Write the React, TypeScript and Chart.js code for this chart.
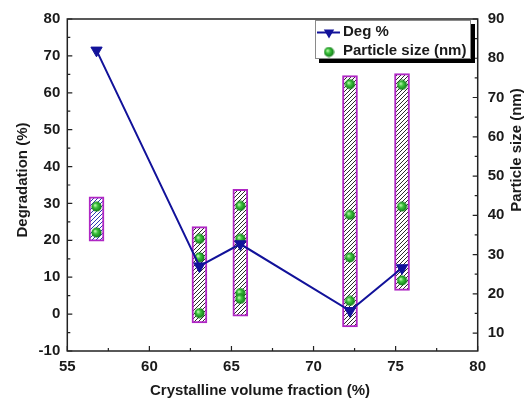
import React, { useEffect, useRef } from 'react';
import { Chart, registerables } from 'chart.js';

Chart.register(...registerables);

// ---- data ----
const sampleX = [56.78, 63.05, 65.54, 72.22, 75.39];
const degradation = [71.5, 13.0, 19.0, 0.9, 12.5];
const boxLow = [33.4, 12.6, 14.3, 11.6, 20.9];
const boxHigh = [44.7, 37.1, 46.6, 75.6, 76.1];
const particleSizes = [
  [42.2, 35.6],
  [34.0, 29.3, 15.1],
  [42.4, 34.0, 20.2, 18.7],
  [73.4, 40.1, 29.3, 18.2],
  [73.2, 42.2, 23.4],
];
const xTicks = [55, 60, 65, 70, 75, 80];
const leftTicks = [-10, 0, 10, 20, 30, 40, 50, 60, 70, 80];
const rightTicks = [10, 20, 30, 40, 50, 60, 70, 80, 90];

const FONT = '"Liberation Sans", Arial, sans-serif';
const TEXT = '#1a1a1a';
const AXIS = '#222222';
const NAVY = '#12129a';
const MAGENTA = '#b026c4';

function makeHatch(color: string): CanvasPattern | string {
  const c = document.createElement('canvas');
  c.width = 4;
  c.height = 4;
  const g = c.getContext('2d');
  if (!g) return '#ddd';
  g.fillStyle = '#ffffff';
  g.fillRect(0, 0, 4, 4);
  g.strokeStyle = color;
  g.lineWidth = 1;
  g.beginPath();
  g.moveTo(0, 4); g.lineTo(4, 0);
  g.moveTo(-1, 1); g.lineTo(1, -1);
  g.moveTo(3, 5); g.lineTo(5, 3);
  g.stroke();
  const p = g.createPattern(c, 'repeat');
  return p || '#ddd';
}

function makeBall(): HTMLCanvasElement {
  const c = document.createElement('canvas');
  c.width = 11;
  c.height = 11;
  const g = c.getContext('2d');
  if (g) {
    const grad = g.createRadialGradient(4, 4, 0.5, 5.5, 5.5, 5.5);
    grad.addColorStop(0, '#b8f5a8');
    grad.addColorStop(0.35, '#3cc23c');
    grad.addColorStop(1, '#0a6e12');
    g.fillStyle = grad;
    g.beginPath();
    g.arc(5.5, 5.5, 5, 0, Math.PI * 2);
    g.fill();
  }
  return c;
}

function drawDownTriangle(ctx: CanvasRenderingContext2D, x: number, y: number, r: number) {
  ctx.beginPath();
  for (let k = 0; k < 3; k++) {
    const a = Math.PI + k * (2 * Math.PI / 3);
    const px = x + Math.sin(a) * r;
    const py = y - Math.cos(a) * r;
    if (k === 0) ctx.moveTo(px, py); else ctx.lineTo(px, py);
  }
  ctx.closePath();
  ctx.fill();
}

const decorPlugin = {
  id: 'decor',
  afterDraw(chart: any) {
    const ctx: CanvasRenderingContext2D = chart.ctx;
    const { left, right, top, bottom } = chart.chartArea;
    const xs = chart.scales.x;
    const yl = chart.scales.y;
    const yr = chart.scales.y2;
    ctx.save();
    // frame
    ctx.strokeStyle = AXIS;
    ctx.lineWidth = 1.5;
    ctx.strokeRect(left, top, right - left, bottom - top);
    // ticks (inward)
    ctx.lineWidth = 1.2;
    ctx.beginPath();
    for (let v = 55; v <= 80.001; v += 2.5) {
      const px = xs.getPixelForValue(v);
      const len = Math.abs(v % 5) < 0.01 ? 5 : 3;
      ctx.moveTo(px, bottom);
      ctx.lineTo(px, bottom - len);
    }
    for (let v = -10; v <= 80.001; v += 5) {
      const py = yl.getPixelForValue(v);
      const len = Math.abs(v % 10) < 0.01 ? 5 : 3;
      ctx.moveTo(left, py);
      ctx.lineTo(left + len, py);
    }
    for (let v = 10; v <= 90.001; v += 5) {
      const py = yr.getPixelForValue(v);
      const len = Math.abs(v % 10) < 0.01 ? 5 : 3;
      ctx.moveTo(right, py);
      ctx.lineTo(right - len, py);
    }
    ctx.stroke();

    // axis titles
    ctx.fillStyle = TEXT;
    ctx.font = `bold 15px ${FONT}`;
    ctx.textAlign = 'center';
    ctx.textBaseline = 'middle';
    ctx.fillText('Crystalline volume fraction (%)', 260, 391);
    ctx.save();
    ctx.translate(23, 180);
    ctx.rotate(-Math.PI / 2);
    ctx.fillText('Degradation (%)', 0, 0);
    ctx.restore();
    ctx.save();
    ctx.translate(517, 150);
    ctx.rotate(-Math.PI / 2);
    ctx.fillText('Particle size (nm)', 0, 0);
    ctx.restore();

    // legend
    const lx = 315, ly = 20, lw = 156, lh = 39;
    ctx.fillStyle = '#000';
    ctx.fillRect(lx + 4, ly + 4, lw, lh);
    ctx.fillStyle = '#fff';
    ctx.fillRect(lx, ly, lw, lh);
    ctx.strokeStyle = '#8a8a8a';
    ctx.lineWidth = 1;
    ctx.strokeRect(lx + 0.5, ly + 0.5, lw - 1, lh - 1);
    const ds = chart.data.datasets;
    // entry 1: line + triangle
    ctx.strokeStyle = NAVY;
    ctx.lineWidth = 2;
    ctx.beginPath();
    ctx.moveTo(317, 32.5);
    ctx.lineTo(340, 32.5);
    ctx.stroke();
    ctx.fillStyle = NAVY;
    drawDownTriangle(ctx, 329, 32.5, 6);
    ctx.fillStyle = TEXT;
    ctx.textAlign = 'left';
    ctx.fillText(ds[2].label, 343, 32);
    // entry 2: ball
    ctx.drawImage(ball, 329 - 5.5, 52 - 5.5);
    ctx.fillStyle = TEXT;
    ctx.fillText(ds[1].label, 343, 51);
    ctx.restore();
  },
};

let ball: HTMLCanvasElement;

export default function App() {
  const ref = useRef<HTMLCanvasElement | null>(null);
  useEffect(() => {
    if (!ref.current) return;
    ball = makeBall();
    const hatchBlue = makeHatch('#2b3ab0');
    const hatchGray = makeHatch('#2a2a2a');
    const tickFont = { family: FONT, size: 15, weight: 'bold' as const };

    const barData = sampleX.map((x, i) => ({ x, y: [boxLow[i], boxHigh[i]] }));
    const ptData: { x: number; y: number }[] = [];
    particleSizes.forEach((arr, i) => arr.forEach((v) => ptData.push({ x: sampleX[i], y: v })));
    const degData = sampleX.map((x, i) => ({ x, y: degradation[i] }));

    const chart = new Chart(ref.current, {
      type: 'line',
      data: {
        datasets: [
          {
            type: 'bar',
            label: 'range',
            data: barData as any,
            xAxisID: 'x',
            yAxisID: 'y2',
            barThickness: 15,
            backgroundColor: sampleX.map((_, i) => (i === 0 ? hatchBlue : hatchGray)) as any,
            borderColor: MAGENTA,
            borderWidth: 2,
            borderSkipped: false,
            order: 3,
          } as any,
          {
            type: 'scatter',
            label: 'Particle size (nm)',
            data: ptData,
            xAxisID: 'x',
            yAxisID: 'y2',
            pointStyle: ball,
            pointRadius: 5,
            showLine: false,
            order: 2,
          } as any,
          {
            type: 'line',
            label: 'Deg %',
            data: degData,
            xAxisID: 'x',
            yAxisID: 'y',
            borderColor: NAVY,
            borderWidth: 2,
            backgroundColor: NAVY,
            pointStyle: 'triangle',
            pointRotation: 180,
            pointRadius: 6.5,
            pointBorderWidth: 1,
            pointBorderColor: NAVY,
            pointBackgroundColor: NAVY,
            tension: 0,
            order: 1,
          } as any,
        ],
      },
      options: {
        animation: false,
        responsive: true,
        maintainAspectRatio: false,
        layout: { padding: { top: 17, left: 0, right: 0, bottom: 0 } },
        plugins: {
          legend: { display: false },
          tooltip: { enabled: false },
          title: { display: false },
        },
        scales: {
          x: {
            type: 'linear',
            position: 'bottom',
            min: 55,
            max: 80,
            offset: false,
            grid: { display: false, drawTicks: false },
            border: { display: false },
            afterBuildTicks: (s: any) => {
              s.ticks = xTicks.map((v) => ({ value: v }));
            },
            ticks: { padding: 7, font: tickFont, color: TEXT, maxRotation: 0, autoSkip: false },
            afterFit: (s: any) => {
              s.height = 52;
            },
          },
          y: {
            type: 'linear',
            position: 'left',
            min: -10,
            max: 80,
            grid: { display: false, drawTicks: false },
            border: { display: false },
            afterBuildTicks: (s: any) => {
              s.ticks = leftTicks.map((v) => ({ value: v }));
            },
            ticks: { padding: 7, font: tickFont, color: TEXT, autoSkip: false },
            afterFit: (s: any) => {
              s.width = 67.3;
            },
          },
          y2: {
            type: 'linear',
            position: 'right',
            min: 5.44,
            max: 90,
            grid: { display: false, drawTicks: false },
            border: { display: false },
            afterBuildTicks: (s: any) => {
              s.ticks = rightTicks.map((v) => ({ value: v }));
            },
            ticks: { padding: 10, font: tickFont, color: TEXT, autoSkip: false },
            afterFit: (s: any) => {
              s.width = 51.3;
            },
          },
        },
      } as any,
      plugins: [decorPlugin],
    });
    return () => chart.destroy();
  }, []);

  return (
    <div style={{ position: 'absolute', left: 0, top: 0, width: 529, height: 403, background: '#fff' }}>
      <canvas ref={ref} />
    </div>
  );
}
